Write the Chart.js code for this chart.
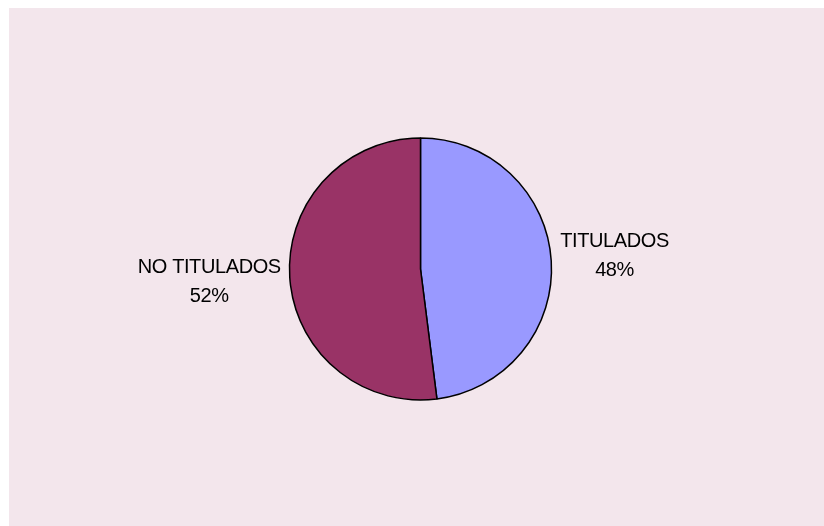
<!DOCTYPE html>
<html>
<head>
<meta charset="utf-8">
<script src="https://cdn.jsdelivr.net/npm/chart.js@4"></script>
<style>
  html, body { margin: 0; padding: 0; background: #fff; }
  #wrap { position: absolute; left: 9px; top: 8px; width: 815px; height: 518px; background: #f3e6ec; }
</style>
</head>
<body>
<div id="wrap"><canvas id="chart" width="815" height="518"></canvas></div>
<script>
// Data
const labels = ["TITULADOS", "NO TITULADOS"];
const values = [48, 52];
const colors = ["#9999ff", "#993366"];

// Labels outside the pie, next to each slice
const outsideLabels = {
    id: "outsideLabels",
    afterDatasetsDraw(chart){
        const ctx = chart.ctx;
        const meta = chart.getDatasetMeta(0);
        const total = values.reduce((a,b)=>a+b,0);
        ctx.save();
        ctx.font = "20px 'Liberation Sans', Arial, sans-serif";
        ctx.letterSpacing = "-0.4px";
        ctx.fillStyle = "#000";
        ctx.textAlign = "center";
        ctx.textBaseline = "middle";
        meta.data.forEach((arc,i)=>{
            const p = arc.getProps(["x","y","startAngle","endAngle","outerRadius"], true);
            const mid = (p.startAngle + p.endAngle) / 2;
            const dx = Math.cos(mid), dy = Math.sin(mid);
            const w = ctx.measureText(labels[i]).width;
            const r = p.outerRadius + 9;
            const cx = p.x + dx * r + Math.sign(dx) * w / 2;
            const cy = p.y + dy * r * 1.5;
            const pct = Math.round(values[i] / total * 100) + "%";
            ctx.fillText(labels[i], cx, cy - 14.5);
            ctx.fillText(pct, cx, cy + 14.5);
        });
        ctx.restore();
    }
};

new Chart(document.getElementById("chart"),{
    type: "pie",
    data: {
        labels: labels,
        datasets: [{
            data: values,
            backgroundColor: colors,
            borderColor: "#000",
            borderWidth: 1.5
        }]
    },
    options: {
        responsive: false,
        animation: false,
        radius: 131,
        layout: { padding: { left: 250, right: 242, top: 120, bottom: 116 } },
        plugins: {
            legend: { display: false },
            tooltip: { enabled: false }
        }
    },
    plugins: [outsideLabels]
});
</script>
</body>
</html>
